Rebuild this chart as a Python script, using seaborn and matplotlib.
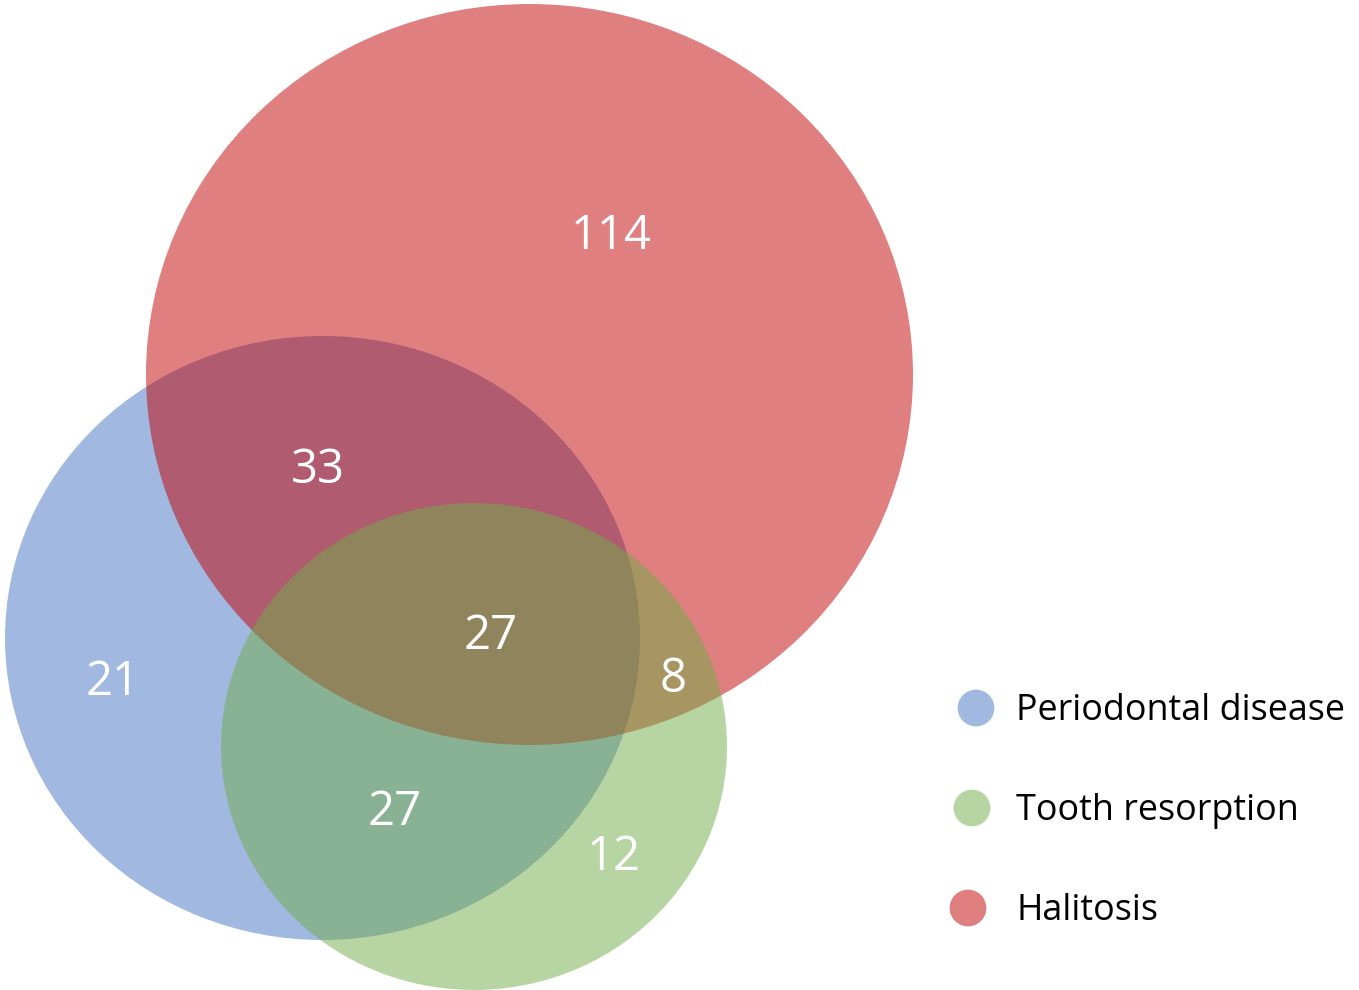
import matplotlib
matplotlib.use("Agg")
import matplotlib.pyplot as plt
from matplotlib.patches import Ellipse
import seaborn as sns
import pandas as pd

# ---- data ----
set_names = ["Periodontal disease", "Tooth resorption", "Halitosis"]
set_colors = ["#4472C4", "#70AD47", "#C00000"]
region_labels = ["P only", "P&H", "P&T&H", "T&H", "P&T", "T only", "H only"]
region_counts = [21, 33, 27, 8, 27, 12, 114]

sns.set_style("white")
plt.rcParams['font.family'] = ['Open Sans', 'DejaVu Sans']

W, H = 1359, 990
fig = plt.figure(figsize=(W / 100, H / 100), dpi=100)
ax = fig.add_axes([0, 0, 1, 1])

# ellipse geometry (pixel space): center x, center y, width, height
geom = {
    "Periodontal disease": (322.5, 638, 635, 604),
    "Halitosis": (529.5, 374.5, 767, 741),
    "Tooth resorption": (474, 746.5, 506, 487),
}
draw_order = ["Periodontal disease", "Halitosis", "Tooth resorption"]
for name in draw_order:
    cx, cy, w, h = geom[name]
    col = set_colors[set_names.index(name)]
    ax.add_patch(Ellipse((cx, cy), w, h, facecolor=col, edgecolor="none", alpha=0.5))

# region label positions
label_pos = {
    "P only": (113, 682), "P&H": (318, 470), "P&T&H": (491, 636),
    "T&H": (673, 679), "P&T": (395, 812), "T only": (614, 857),
    "H only": (611, 236),
}
for lab, cnt in zip(region_labels, region_counts):
    x, y = label_pos[lab]
    ax.text(x, y, str(cnt), color="white", fontsize=34, ha="center", va="center")

# legend
leg_df = pd.DataFrame({
    "name": set_names,
    "x": [976, 972, 968],
    "y": [708, 808, 908],
})
sns.scatterplot(data=leg_df, x="x", y="y", hue="name", palette=set_colors,
                s=700, alpha=0.5, linewidth=0, legend=False, ax=ax)
for i, row in leg_df.iterrows():
    ax.text(1016, row["y"] + 3, row["name"], color="black", fontsize=25.8,
            ha="left", va="center")

ax.set_xlim(0, W)
ax.set_ylim(H, 0)
ax.set_aspect("equal")
ax.axis("off")

fig.savefig("out.png", dpi=100)
